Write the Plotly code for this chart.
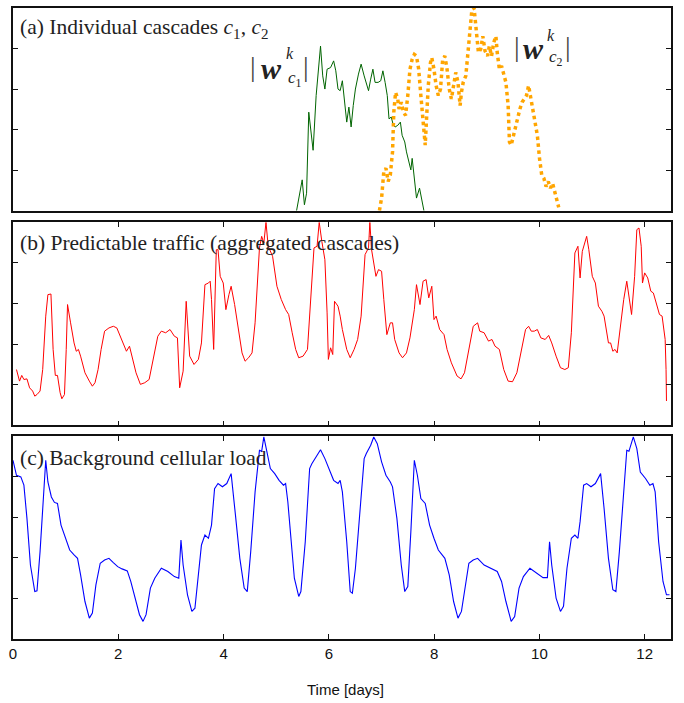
import plotly.graph_objects as go

# ---------------- data (time in days, load in arbitrary units 0-100) ----------------
# (a) cascade c1 (green)
c1_t = [5.387, 5.469, 5.494, 5.536, 5.577, 5.619, 5.660, 5.701, 5.759, 5.801, 5.842, 5.884, 5.925, 5.967,
        6.033, 6.091, 6.132, 6.174, 6.215, 6.257, 6.298, 6.340, 6.381, 6.423, 6.464, 6.505, 6.563, 6.613,
        6.671, 6.712, 6.754, 6.795, 6.837, 6.878, 6.936, 6.986, 7.027, 7.069, 7.110, 7.143, 7.185, 7.226,
        7.259, 7.309, 7.359, 7.392, 7.442, 7.475, 7.516, 7.558, 7.583, 7.624, 7.665, 7.723, 7.773, 7.806]
c1_v = [0, 10.3, 15.2, 2.9, 8.6, 48.6, 38.8, 29.8, 56.8, 69.8, 81.2, 66.5, 60.0, 69.8,
        70.6, 73.9, 69.0, 60.0, 59.2, 64.1, 53.5, 43.7, 51.1, 41.3, 51.9, 60.0, 67.4, 72.3,
        66.5, 62.5, 59.2, 64.9, 69.8, 63.3, 63.3, 64.1, 69.0, 63.3, 56.8, 45.3, 46.2, 42.1,
        41.3, 42.1, 43.7, 37.2, 33.9, 29.0, 25.0, 20.1, 25.8, 16.0, 6.2, 11.1, 3.8, 0]

# (a) cascade c2 (orange, dotted)
c2_t = [6.961, 7.002, 7.044, 7.085, 7.127, 7.168, 7.210, 7.234, 7.268, 7.309, 7.334, 7.376, 7.417, 7.458,
        7.500, 7.541, 7.583, 7.624, 7.665, 7.707, 7.748, 7.790, 7.831, 7.856, 7.889, 7.931, 7.956, 7.997,
        8.038, 8.080, 8.121, 8.163, 8.204, 8.246, 8.287, 8.328, 8.370, 8.411, 8.453, 8.494, 8.519, 8.552,
        8.602, 8.643, 8.685, 8.718, 8.759, 8.801, 8.842, 8.884, 8.925, 8.967, 9.016, 9.049, 9.091, 9.132,
        9.174, 9.199, 9.240, 9.281, 9.323, 9.364, 9.406, 9.431, 9.464, 9.505, 9.547, 9.588, 9.630, 9.671,
        9.712, 9.754, 9.795, 9.837, 9.878, 9.920, 9.961, 10.002, 10.044, 10.085, 10.127, 10.168, 10.210,
        10.251, 10.293, 10.334, 10.367]
c2_v = [0, 6.2, 19.2, 20.9, 14.4, 17.6, 29.0, 48.6, 58.4, 55.1, 50.2, 53.5, 48.6, 47.0,
        56.8, 69.8, 74.7, 77.1, 76.3, 69.8, 56.8, 43.7, 32.3, 45.3, 61.7, 73.1, 75.5, 69.8,
        61.7, 56.8, 60.0, 74.7, 76.3, 69.8, 60.0, 55.1, 63.3, 68.2, 63.3, 51.9, 58.4, 63.3,
        66.5, 78.0, 91.0, 99.2, 100.0, 89.4, 78.0, 79.6, 86.1, 78.8, 76.3, 81.2, 76.3, 82.9,
        86.1, 78.0, 69.8, 71.4, 66.5, 63.3, 51.9, 33.9, 32.3, 37.2, 40.4, 45.3, 50.2, 53.5,
        55.1, 56.8, 61.7, 55.1, 50.2, 43.7, 37.2, 25.8, 17.6, 16.0, 11.9, 14.4, 11.1,
        13.5, 9.5, 4.6, 1.6]

# (b) predictable traffic (red)
pred_t = [0.066, 0.124, 0.166, 0.207, 0.265, 0.315, 0.373, 0.414, 0.456, 0.514, 0.564, 0.622, 0.663, 0.721,
          0.762, 0.804, 0.845, 0.895, 0.928, 0.978, 1.011, 1.036, 1.094, 1.160, 1.202, 1.243, 1.284, 1.367,
          1.450, 1.508, 1.558, 1.616, 1.674, 1.740, 1.823, 1.906, 1.972, 2.055, 2.155, 2.213, 2.279, 2.337,
          2.420, 2.503, 2.586, 2.668, 2.751, 2.818, 2.900, 2.983, 3.066, 3.124, 3.166, 3.232, 3.290, 3.356,
          3.439, 3.522, 3.580, 3.646, 3.713, 3.746, 3.771, 3.812, 3.862, 3.895, 3.936, 3.994, 4.044, 4.102,
          4.144, 4.210, 4.268, 4.351, 4.409, 4.475, 4.541, 4.599, 4.682, 4.724, 4.765, 4.806, 4.848, 4.931,
          5.014, 5.096, 5.179, 5.237, 5.304, 5.370, 5.428, 5.511, 5.594, 5.652, 5.718, 5.776, 5.817, 5.867,
          5.925, 5.967, 5.991, 6.033, 6.074, 6.108, 6.174, 6.215, 6.257, 6.340, 6.406, 6.480, 6.547, 6.613,
          6.688, 6.754, 6.779, 6.812, 6.895, 6.944, 7.002, 7.044, 7.102, 7.168, 7.210, 7.251, 7.334, 7.400,
          7.475, 7.541, 7.624, 7.665, 7.732, 7.790, 7.848, 7.898, 7.956, 7.997, 8.038, 8.105, 8.188, 8.246,
          8.328, 8.436, 8.511, 8.577, 8.660, 8.743, 8.826, 8.867, 8.950, 9.033, 9.099, 9.157, 9.240, 9.323,
          9.406, 9.489, 9.572, 9.654, 9.737, 9.795, 9.845, 9.903, 9.961, 10.027, 10.110, 10.176, 10.234,
          10.317, 10.400, 10.483, 10.549, 10.607, 10.674, 10.732, 10.773, 10.815, 10.856, 10.898, 10.939,
          11.005, 11.063, 11.121, 11.187, 11.229, 11.312, 11.353, 11.395, 11.436, 11.478, 11.536, 11.602,
          11.660, 11.701, 11.751, 11.809, 11.851, 11.892, 11.934, 11.958, 12.000, 12.058, 12.116, 12.165,
          12.223, 12.281, 12.331, 12.389, 12.406, 12.414]
pred_v = [27.5, 21.8, 24.6, 22.6, 22.9, 18.5, 16.9, 14.4, 15.2, 16.9, 27.5, 53.8, 64.4, 64.7,
          37.4, 24.6, 24.6, 16.1, 13.1, 15.2, 37.4, 59.5, 50.5, 40.6, 36.5, 37.4, 34.1, 25.9,
          21.8, 19.3, 21.0, 27.5, 37.4, 46.4, 48.0, 48.8, 48.0, 43.1, 36.5, 39.0, 32.5, 25.9,
          20.2, 21.0, 22.6, 34.1, 43.9, 46.4, 45.6, 47.2, 43.9, 43.1, 18.5, 26.7, 61.1, 34.1,
          30.0, 32.5, 40.6, 69.3, 70.1, 71.0, 62.0, 37.4, 86.5, 86.5, 73.4, 70.1, 57.0, 64.4,
          68.5, 59.5, 48.8, 35.7, 31.6, 33.3, 35.7, 50.5, 87.4, 93.1, 89.8, 100.0, 88.2, 83.3,
          68.5, 62.0, 57.0, 54.6, 45.6, 37.4, 33.3, 34.1, 37.4, 62.8, 87.4, 88.2, 100.0, 90.6,
          81.6, 55.4, 32.5, 38.2, 34.9, 61.1, 58.7, 53.8, 47.2, 37.4, 33.3, 37.4, 42.3, 53.8,
          84.1, 87.4, 100.0, 86.5, 73.4, 76.7, 75.9, 62.0, 44.7, 50.5, 50.5, 42.3, 35.7, 33.3,
          35.7, 43.1, 57.0, 69.3, 59.5, 71.0, 71.8, 62.8, 68.5, 52.1, 53.8, 47.2, 44.7, 37.4,
          30.8, 24.3, 22.9, 25.9, 37.4, 48.8, 50.5, 46.4, 45.6, 41.5, 42.3, 39.0, 37.4, 27.5,
          21.8, 21.5, 25.9, 37.4, 47.2, 48.8, 46.4, 46.4, 47.2, 43.1, 42.3, 44.3, 40.6,
          34.1, 28.4, 27.5, 28.4, 45.6, 84.9, 88.2, 72.6, 85.7, 89.8, 93.1, 86.5,
          73.4, 70.1, 58.7, 56.2, 53.8, 40.6, 40.6, 36.5, 37.4, 35.7, 48.8, 62.0,
          71.0, 62.8, 54.6, 73.4, 96.4, 97.2, 88.2, 70.1, 75.1, 72.6, 66.1, 65.2,
          60.3, 54.6, 53.8, 42.3, 27.5, 12.0]

# (c) background cellular load (blue)
bg_t = [0.000, 0.066, 0.149, 0.207, 0.265, 0.331, 0.414, 0.456, 0.514, 0.580, 0.622, 0.663, 0.729, 0.787,
        0.845, 0.912, 0.994, 1.077, 1.160, 1.226, 1.284, 1.367, 1.450, 1.508, 1.575, 1.657, 1.740, 1.823,
        1.906, 1.989, 2.072, 2.171, 2.237, 2.320, 2.403, 2.470, 2.528, 2.610, 2.693, 2.818, 2.942, 3.066,
        3.149, 3.191, 3.232, 3.315, 3.398, 3.456, 3.522, 3.580, 3.646, 3.713, 3.771, 3.829, 3.895, 3.978,
        4.061, 4.144, 4.226, 4.309, 4.392, 4.450, 4.516, 4.599, 4.682, 4.724, 4.765, 4.806, 4.889, 4.972,
        5.055, 5.138, 5.179, 5.221, 5.287, 5.345, 5.428, 5.469, 5.552, 5.635, 5.677, 5.735, 5.842, 5.925,
        6.008, 6.091, 6.174, 6.215, 6.257, 6.340, 6.406, 6.447, 6.505, 6.588, 6.671, 6.712, 6.795, 6.853,
        6.920, 7.002, 7.085, 7.168, 7.210, 7.293, 7.376, 7.442, 7.500, 7.558, 7.624, 7.682, 7.748, 7.831,
        7.914, 7.997, 8.080, 8.204, 8.287, 8.370, 8.453, 8.519, 8.602, 8.660, 8.743, 8.826, 8.950, 9.116,
        9.199, 9.281, 9.364, 9.464, 9.530, 9.613, 9.696, 9.820, 9.944, 10.069, 10.152, 10.193, 10.234,
        10.317, 10.400, 10.458, 10.524, 10.607, 10.674, 10.732, 10.773, 10.840, 10.898, 10.980, 11.063,
        11.163, 11.229, 11.312, 11.395, 11.453, 11.519, 11.602, 11.660, 11.701, 11.751, 11.784, 11.851,
        11.917, 12.016, 12.099, 12.157, 12.199, 12.265, 12.348, 12.414, 12.472]
bg_v = [88.2, 80.8, 80.0, 75.9, 59.5, 36.5, 23.4, 23.8, 43.1, 72.6, 88.2, 77.5, 70.1, 67.4,
        66.9, 56.2, 49.7, 43.9, 41.5, 39.8, 31.6, 18.5, 10.3, 12.8, 26.7, 37.4, 39.0, 39.8,
        37.7, 35.7, 34.6, 33.6, 28.4, 20.2, 12.0, 8.7, 12.0, 25.1, 30.0, 34.9, 33.3, 30.8,
        30.0, 48.8, 36.5, 21.8, 13.6, 15.2, 31.6, 46.4, 51.3, 49.7, 56.2, 74.2, 76.7, 75.1,
        76.7, 81.6, 61.1, 39.8, 25.1, 23.4, 43.1, 72.6, 93.1, 92.6, 99.7, 93.9, 84.1, 81.6,
        78.3, 75.9, 76.7, 67.7, 48.0, 30.0, 21.0, 23.4, 48.0, 84.1, 86.5, 89.0, 93.4, 89.0,
        84.1, 78.3, 76.7, 78.3, 72.6, 48.0, 23.4, 22.6, 34.9, 64.4, 89.0, 91.5, 95.6, 99.7,
        96.4, 87.4, 80.8, 77.5, 75.1, 59.5, 36.5, 23.4, 25.9, 52.9, 88.2, 80.8, 69.3, 66.9,
        56.2, 49.7, 43.9, 39.8, 31.6, 18.5, 10.3, 13.6, 26.7, 37.4, 39.0, 39.8, 36.5, 34.1,
        33.3, 28.4, 18.5, 8.7, 11.1, 25.1, 30.8, 34.9, 32.5, 30.3, 30.3, 48.0, 36.5,
        20.2, 13.6, 16.1, 34.9, 49.7, 51.3, 49.7, 57.9, 75.9, 76.7, 75.1, 76.7,
        81.6, 64.4, 39.8, 24.3, 23.4, 43.1, 72.6, 93.1, 92.6, 97.2, 99.7, 93.9,
        82.4, 79.2, 75.9, 76.7, 72.6, 48.0, 28.4, 21.8, 21.8]

x_ticks = [0, 2, 4, 6, 8, 10, 12]
y_ticks = [20, 40, 60, 80]

panel_titles = ["(a) Individual cascades <i>c</i><sub>1</sub>, <i>c</i><sub>2</sub>",
                "(b) Predictable traffic (aggregated cascades)",
                "(c) Background cellular load"]
x_title = "Time [days]"

# ---------------- figure ----------------
W, H = 684, 703
ML, MR, MT, MB = 13, 13, 6, 64
PW, PH = W - ML - MR, H - MT - MB


def pxx(x):
    return (x - ML) / PW


def pxy(y):
    return (H - MB - y) / PH


fig = go.Figure()
fig.add_trace(go.Scatter(x=c1_t, y=c1_v, mode="lines", line=dict(color="#006400", width=1),
                         xaxis="x", yaxis="y", showlegend=False))
fig.add_trace(go.Scatter(x=c2_t, y=c2_v, mode="lines", line=dict(color="#FFA500", width=3.5, dash="dot"),
                         xaxis="x", yaxis="y", showlegend=False))
fig.add_trace(go.Scatter(x=pred_t, y=pred_v, mode="lines", line=dict(color="#FF0000", width=1),
                         xaxis="x2", yaxis="y2", showlegend=False))
fig.add_trace(go.Scatter(x=bg_t, y=bg_v, mode="lines", line=dict(color="#0000FF", width=1.1),
                         xaxis="x3", yaxis="y3", showlegend=False))

frame = dict(showline=True, linecolor="#111", linewidth=1.5, mirror="ticks", showgrid=False,
             zeroline=False, ticks="inside", ticklen=5, tickwidth=1, tickcolor="#111")

domains = {"a": [pxy(209.3), 1.0], "b": [pxy(424.7), pxy(221)], "c": [0.0, pxy(435.7)]}

xcommon = dict(range=[0, 12.5], tickvals=x_ticks, **frame)
ycommon = dict(range=[0, 100], tickvals=y_ticks, showticklabels=False, **frame)

fig.update_layout(
    width=W, height=H,
    margin=dict(l=ML, r=MR, t=MT, b=MB),
    paper_bgcolor="white", plot_bgcolor="white",
    hovermode=False,
    xaxis=dict(xcommon, anchor="y", showticklabels=False, ticks=""),
    yaxis=dict(ycommon, anchor="x", domain=domains["a"]),
    xaxis2=dict(xcommon, anchor="y2", showticklabels=False),
    yaxis2=dict(ycommon, anchor="x2", domain=domains["b"]),
    xaxis3=dict(xcommon, anchor="y3", showticklabels=True,
                tickfont=dict(family="Liberation Sans", size=15, color="#111")),
    yaxis3=dict(ycommon, anchor="x3", domain=domains["c"]),
)

serif = "Liberation Serif"
ann = []
for title, ycen in zip(panel_titles, [27, 242, 457]):
    ann.append(dict(text=title, x=pxx(18), y=pxy(ycen), xref="paper", yref="paper",
                    xanchor="left", yanchor="middle", showarrow=False,
                    font=dict(family=serif, size=21.5, color="#222")))

ann.append(dict(text=x_title, x=pxx(345), y=pxy(690), xref="paper", yref="paper",
                xanchor="center", yanchor="middle", showarrow=False,
                font=dict(family="Liberation Sans", size=15, color="#111")))


# |w^k_c| labels
def wlabel(xl, yc, xw, xk, yk, xc, yc2, xr, sub):
    parts = [("|", xl, yc, 28, "#444"),
             ("<b><i>w</i></b>", xw, yc + 2, 30, "#222"),
             ("<i>k</i>", xk, yk, 16, "#222"),
             ("<i>c</i><sub>%s</sub>" % sub, xc, yc2, 17, "#222"),
             ("|", xr, yc, 28, "#444")]
    for t, x, y, s, col in parts:
        ann.append(dict(text=t, x=pxx(x), y=pxy(y), xref="paper", yref="paper",
                        xanchor="center", yanchor="middle", showarrow=False,
                        font=dict(family=serif, size=s, color=col)))


wlabel(253, 65, 271, 290, 52, 295, 77, 306, "1")
wlabel(517, 45, 533, 551, 34, 556, 56, 568, "2")

fig.update_layout(annotations=ann)
fig.write_html("out.html", config={"displayModeBar": False},
               post_script="document.body.style.margin='0px';document.body.style.overflow='hidden';")
